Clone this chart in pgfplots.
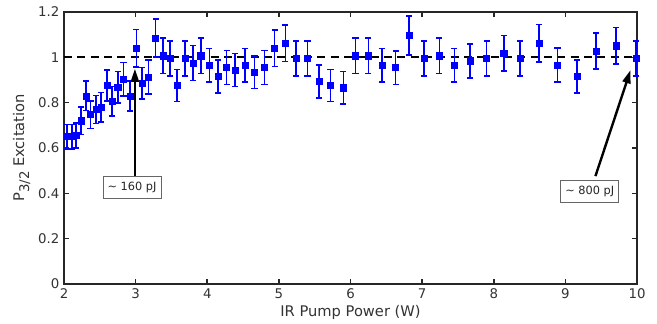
\documentclass[border=0pt]{standalone}
\usepackage{pgfplots}
\pgfplotsset{compat=1.18}
\usepackage{pgfplotstable}
\usepackage{fontspec}
\setmainfont{DejaVu Sans}
\usetikzlibrary{arrows.meta}
\pgfplotstableread{
x y e
2.04 0.650 0.054
2.11 0.650 0.054
2.17 0.655 0.054
2.24 0.720 0.060
2.31 0.830 0.065
2.37 0.747 0.061
2.45 0.770 0.062
2.52 0.780 0.064
2.60 0.876 0.068
2.67 0.806 0.066
2.75 0.868 0.070
2.83 0.904 0.074
2.92 0.830 0.066
3.01 1.040 0.082
3.09 0.885 0.070
3.18 0.913 0.074
3.28 1.085 0.083
3.38 1.007 0.079
3.48 0.995 0.077
3.58 0.876 0.070
3.69 0.995 0.077
3.80 0.975 0.077
3.91 1.007 0.079
4.03 0.965 0.074
4.15 0.915 0.073
4.27 0.955 0.075
4.39 0.944 0.073
4.53 0.965 0.074
4.66 0.934 0.072
4.80 0.955 0.075
4.94 1.040 0.081
5.09 1.062 0.081
5.24 0.995 0.077
5.40 0.995 0.077
5.56 0.894 0.073
5.72 0.876 0.071
5.90 0.866 0.071
6.07 1.007 0.079
6.25 1.007 0.079
6.44 0.965 0.074
6.63 0.955 0.074
6.82 1.097 0.086
7.03 0.995 0.077
7.24 1.007 0.079
7.45 0.965 0.074
7.67 0.985 0.075
7.90 0.995 0.077
8.14 1.018 0.079
8.37 0.995 0.077
8.63 1.062 0.082
8.89 0.965 0.075
9.16 0.915 0.073
9.43 1.028 0.079
9.71 1.051 0.081
9.99 0.995 0.077
}\datatable
\begin{document}
\begin{tikzpicture}
\useasboundingbox (-48pt,-30pt) rectangle (444.75pt,213pt);
\begin{axis}[
  scale only axis,
  width=429.75pt, height=204pt,
  xmin=2, xmax=10, ymin=0, ymax=1.2,
  xtick={2,3,...,10},
  ytick={0,0.2,0.4,0.6,0.8,1,1.2},
  yticklabels={0,0.2,0.4,0.6,0.8,1,1.2},
  /pgf/number format/assume math mode=true,
  tick align=inside,
  major tick length=4pt,
  axis line style={line width=1.5pt, draw=black!85},
  every tick/.style={line width=1.2pt, black!85},
  tick label style={font=\fontsize{10}{12}\selectfont, text=black!80},
  label style={font=\fontsize{11}{13}\selectfont, text=black!80},
  xlabel={IR Pump Power (W)},
  ylabel={P\raisebox{-0.6ex}{\fontsize{10}{12}\selectfont 3/2} Excitation},
  xlabel style={yshift=2pt},
  ylabel style={yshift=-1pt},
  clip=false,
]
\addplot[black, dashed, line width=1.3pt, dash pattern=on 6pt off 4pt, forget plot] coordinates {(2,1) (10,1)};
\addplot[blue, only marks, mark=square*, mark size=2.3pt,
  mark options={fill=blue, draw=blue},
  error bars/.cd, y dir=both, y explicit,
  error bar style={line width=1.2pt, blue},
  error mark options={rotate=90, mark size=2.3pt, line width=1.2pt, blue}]
  table[x=x, y=y, y error=e] {\datatable};
\draw[-{Triangle[length=10pt,width=6pt]}, line width=1.8pt, black] (axis cs:2.99,0.476) -- (axis cs:2.99,0.95);
\draw[-{Triangle[length=10pt,width=6pt]}, line width=1.8pt, black] (axis cs:9.42,0.476) -- (axis cs:9.91,0.944);
\node[draw=black!60, fill=white, line width=0.6pt, font=\fontsize{8.5}{10}\selectfont, inner sep=3.5pt, minimum height=16.5pt, text=black!85] at (axis cs:2.95,0.428) {\textasciitilde{} 160 pJ};
\node[draw=black!60, fill=white, line width=0.6pt, font=\fontsize{8.5}{10}\selectfont, inner sep=3.5pt, minimum height=16.5pt, text=black!85] at (axis cs:9.34,0.41) {\textasciitilde{} 800 pJ};
\end{axis}
\end{tikzpicture}
\end{document}
